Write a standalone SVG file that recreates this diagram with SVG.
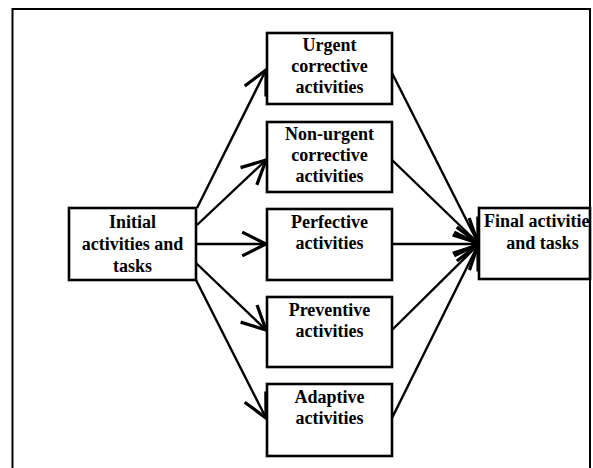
<svg xmlns="http://www.w3.org/2000/svg" width="593" height="468" viewBox="0 0 593 468">
<defs>
<style>
.box{fill:#fff;stroke:#000;stroke-width:2.6}
.t{font-family:"Liberation Serif","Times New Roman",serif;font-size:18px;font-weight:bold;fill:#000;text-anchor:middle}
.c{stroke:#000;stroke-width:2.4;fill:none;marker-end:url(#ah)}
</style>
<marker id="ah" markerUnits="userSpaceOnUse" markerWidth="30" markerHeight="30" viewBox="-22 -12 24 24" refX="0" refY="0" orient="auto">
<path d="M-19,-9.5 L0,0 L-19,9.5" fill="none" stroke="#000" stroke-width="2.6"/>
</marker>
</defs>
<rect width="593" height="468" fill="#fff"/>
<path d="M12.5,470 V9 H590 V470" fill="none" stroke="#000" stroke-width="2"/>
<g id="connectors">
<line class="c" x1="197" y1="208" x2="266" y2="70"/>
<line class="c" x1="197" y1="225" x2="266" y2="160"/>
<line class="c" x1="196" y1="244" x2="266" y2="244"/>
<line class="c" x1="196" y1="263" x2="266" y2="330"/>
<line class="c" x1="196" y1="280" x2="266" y2="418"/>
<line class="c" x1="392" y1="73" x2="478" y2="243"/>
<line class="c" x1="392" y1="160" x2="478" y2="243"/>
<line class="c" x1="392" y1="244" x2="478" y2="244"/>
<line class="c" x1="392" y1="330" x2="478" y2="245"/>
<line class="c" x1="392" y1="418" x2="478" y2="245"/>
</g>
<g id="initial">
<rect class="box" x="69" y="208" width="127" height="72"/>
<text class="t" x="132.5" y="228">Initial</text>
<text class="t" x="132.5" y="250">activities and</text>
<text class="t" x="132.5" y="272">tasks</text>
</g>
<g id="urgent">
<rect class="box" x="267" y="33" width="125" height="71"/>
<text class="t" x="329.5" y="51">Urgent</text>
<text class="t" x="329.5" y="72">corrective</text>
<text class="t" x="329.5" y="93">activities</text>
</g>
<g id="nonurgent">
<rect class="box" x="267" y="122" width="125" height="70"/>
<text class="t" x="329.5" y="140">Non-urgent</text>
<text class="t" x="329.5" y="161">corrective</text>
<text class="t" x="329.5" y="182">activities</text>
</g>
<g id="perfective">
<rect class="box" x="267" y="209" width="125" height="71"/>
<text class="t" x="329.5" y="228">Perfective</text>
<text class="t" x="329.5" y="249">activities</text>
</g>
<g id="preventive">
<rect class="box" x="267" y="297" width="125" height="70"/>
<text class="t" x="329.5" y="316">Preventive</text>
<text class="t" x="329.5" y="337">activities</text>
</g>
<g id="adaptive">
<rect class="box" x="267" y="384" width="125" height="72"/>
<text class="t" x="329.5" y="403">Adaptive</text>
<text class="t" x="329.5" y="424">activities</text>
</g>
<g id="final">
<rect class="box" x="479" y="208" width="111" height="71"/>
<text class="t" x="484" y="227" style="text-anchor:start">Final activitie</text>
<text class="t" x="542.5" y="249">and tasks</text>
</g>
</svg>
